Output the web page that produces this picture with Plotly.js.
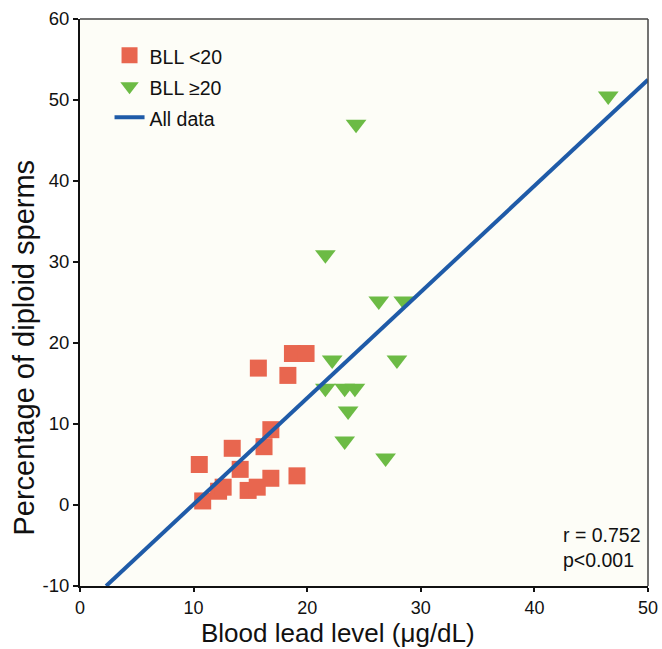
<!DOCTYPE html>
<html>
<head>
<meta charset="utf-8">
<script src="https://cdn.plot.ly/plotly-3.0.1.min.js"></script>
<style>html,body{margin:0;padding:0;background:#fff;}#chart{width:662px;height:649px;}</style>
</head>
<body>
<div id="chart"></div>
<script>
// BLL < 20 group (squares)
const lowX = [10.5, 10.8, 12.2, 12.6, 13.4, 14.1, 14.8, 15.6, 16.8, 16.2, 16.8, 19.1, 15.7, 18.3, 18.7, 19.9];
const lowY = [5.0, 0.5, 1.7, 2.2, 7.0, 4.4, 1.8, 2.2, 9.3, 7.2, 3.3, 3.6, 16.9, 16.0, 18.7, 18.7];
// BLL >= 20 group (triangles)
const highX = [21.6, 24.3, 46.5, 26.3, 28.5, 22.2, 27.9, 21.6, 23.3, 24.2, 23.6, 23.3, 26.9];
const highY = [30.9, 47.0, 50.5, 25.2, 25.2, 17.9, 17.9, 14.4, 14.4, 14.4, 11.6, 7.9, 5.8];
// Regression line, all data (endpoints)
const fitX = [2.3, 50];
const fitY = [-10, 52.5];
// Axis ticks
const xTicks = [0, 10, 20, 30, 40, 50];
const yTicks = [-10, 0, 10, 20, 30, 40, 50, 60];
const names = ['BLL <20', 'BLL ≥20', 'All data'];
const statsText = ['r = 0.752', 'p<0.001'];
const xTitle = 'Blood lead level (μg/dL)';
const yTitle = 'Percentage of diploid sperms';

const FONT = 'Liberation Sans, Arial, Helvetica, sans-serif';
const lg = s => '<span style="font-size:19.5px">' + s + '</span>';

const traces = [
  {x: lowX, y: lowY, type: 'scatter', mode: 'markers', name: lg(names[0]),
   marker: {symbol: 'square', size: 17, color: '#E8664F', line: {width: 0}}},
  {x: highX, y: highY, type: 'scatter', mode: 'markers', name: lg(names[1]),
   marker: {symbol: 'triangle-down', size: 18, color: '#6CBB45', line: {width: 0}}},
  {x: fitX, y: fitY, type: 'scatter', mode: 'lines', name: lg(names[2]),
   line: {color: '#1F5BA8', width: 4}}
];

const axisCommon = {
  showline: true, linecolor: '#111', linewidth: 2,
  ticks: 'outside', ticklen: 5, tickwidth: 2, tickcolor: '#111',
  showgrid: false, zeroline: false,
  tickfont: {family: FONT, size: 18.5, color: '#111'}
};

const layout = {
  width: 662, height: 649,
  margin: {l: 80, r: 14, t: 19, b: 63},
  paper_bgcolor: '#ffffff',
  plot_bgcolor: '#FDFDF7',
  font: {family: FONT, color: '#111'},
  showlegend: true,
  legend: {x: 0.052, y: 0.972, xanchor: 'left', yanchor: 'top',
           bgcolor: 'rgba(0,0,0,0)', borderwidth: 0,
           font: {family: FONT, size: 21.5, color: '#111'}},
  xaxis: Object.assign({}, axisCommon, {
    range: [0, 50], tickvals: xTicks, ticktext: xTicks.map(String),
    ticklen: 4, tickfont: {family: FONT, size: 18, color: '#111'}
  }),
  yaxis: Object.assign({}, axisCommon, {
    range: [-10, 60], tickvals: yTicks, ticktext: yTicks.map(String)
  }),
  shapes: [
    {type: 'line', xref: 'paper', yref: 'paper', x0: 0, x1: 1, y0: 1, y1: 1, line: {color: '#444', width: 1.5}},
    {type: 'line', xref: 'paper', yref: 'paper', x0: 1, x1: 1, y0: 0, y1: 1, line: {color: '#444', width: 1.5}}
  ],
  annotations: [
    {xref: 'paper', yref: 'paper', x: 0.846, y: 0.068, xanchor: 'left', yanchor: 'middle',
     align: 'left', showarrow: false, text: statsText.join('<br>'),
     font: {family: FONT, size: 19.5, color: '#111'}},
    {xref: 'paper', yref: 'paper', x: 0.454, y: -0.0829, xanchor: 'center', yanchor: 'middle',
     showarrow: false, text: xTitle, font: {family: FONT, size: 26, color: '#111'}},
    {xref: 'paper', yref: 'paper', x: -0.0986, y: 0.4206, xanchor: 'center', yanchor: 'middle',
     showarrow: false, textangle: -90, text: yTitle, font: {family: FONT, size: 29, color: '#111'}}
  ]
};

Plotly.newPlot('chart', traces, layout, {displayModeBar: false, staticPlot: true});
</script>
</body>
</html>
